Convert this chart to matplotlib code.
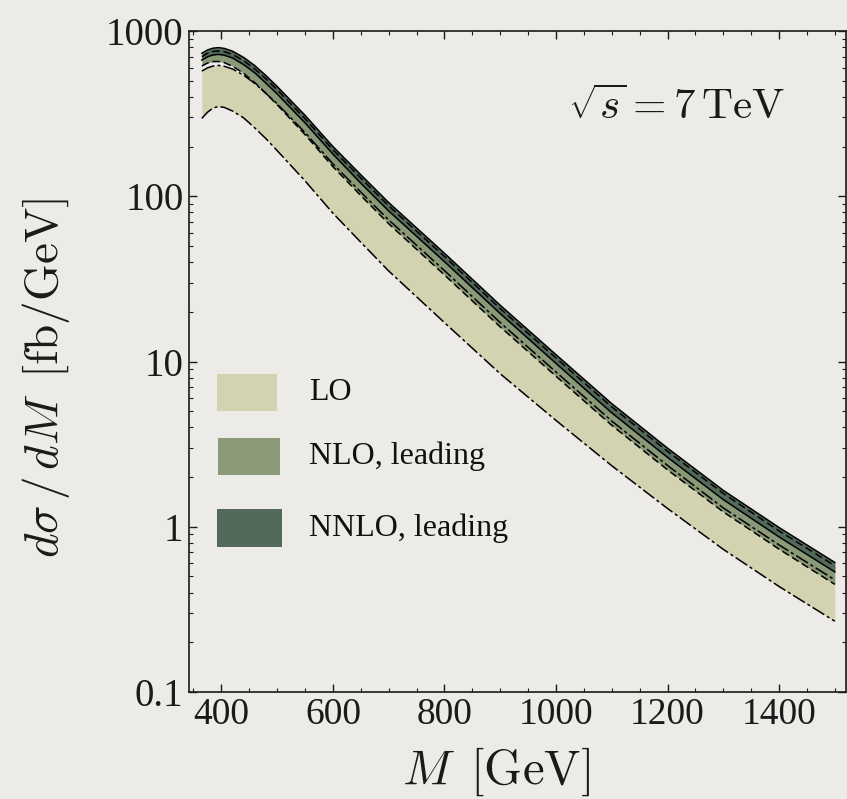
import numpy as np
import matplotlib
matplotlib.use("Agg")
import matplotlib.pyplot as plt
from matplotlib.patches import Rectangle

# invariant-mass grid [GeV]
mass = [365, 375, 385, 395, 405, 420, 440, 460, 480, 500, 550, 600, 650, 700,
        800, 900, 1000, 1100, 1200, 1300, 1400, 1500]

# scale-variation bands, d sigma / dM [fb/GeV]
lo_low = [296, 322, 342, 349, 345, 328, 298, 259, 223, 189, 124, 79.0, 52.7, 35.3,
          17.2, 8.43, 4.40, 2.34, 1.29, 0.730, 0.435, 0.268]
lo_high = [572, 598, 614, 619, 612, 589, 540, 481, 419, 363, 243, 157, 106, 71.9,
           35.5, 17.2, 8.64, 4.36, 2.35, 1.30, 0.776, 0.477]
nlo_low = [614, 640, 653, 654, 644, 612, 554, 487, 419, 358, 236, 151, 101, 68.2,
           33.4, 16.2, 8.14, 4.11, 2.21, 1.23, 0.732, 0.448]
nlo_high = [700, 732, 752, 757, 750, 721, 661, 589, 513, 441, 295, 191, 129, 87.5,
            43.2, 20.9, 10.5, 5.31, 2.86, 1.59, 0.944, 0.581]
nnlo_low = [667, 698, 716, 722, 714, 687, 626, 558, 483, 416, 278, 180, 120, 81.5,
            40.2, 19.5, 9.74, 4.89, 2.63, 1.46, 0.868, 0.533]
nnlo_high = [733, 767, 787, 793, 785, 755, 692, 617, 537, 462, 309, 200, 135, 91.6,
             45.2, 21.9, 11.0, 5.56, 2.99, 1.66, 0.989, 0.608]

labels = ["LO", "NLO, leading", "NNLO, leading"]
colors = ["#d3d3b2", "#8a9977", "#53695a"]
x_ticks = [400, 600, 800, 1000, 1200, 1400]
y_ticks = [0.1, 1, 10, 100, 1000]
y_ticklabels = ["0.1", "1", "10", "100", "1000"]

bg = "#ecebe7"
ink = "#1a1a1a"
plt.rcParams["mathtext.fontset"] = "cm"

W, H = 847, 799
fig = plt.figure(figsize=(W / 100, H / 100), dpi=100, facecolor=bg)
ax_l, ax_r, ax_t, ax_b = 189, 846, 31, 692
ax = fig.add_axes([ax_l / W, (H - ax_b) / H, (ax_r - ax_l) / W, (ax_b - ax_t) / H], facecolor=bg)
aw, ah = ax_r - ax_l, ax_b - ax_t

bands = [(lo_low, lo_high), (nlo_low, nlo_high), (nnlo_low, nnlo_high)]
styles = [(0, (9, 2, 2, 2)), (0, (5, 2.5)), "-"]
for (lo, hi), c in zip(bands, colors):
    ax.fill_between(mass, lo, hi, color=c, lw=0, zorder=2)
for (lo, hi), ls in zip(bands, styles):
    for curve in (lo, hi):
        ax.plot(mass, curve, color="black", lw=1.1, ls=ls, zorder=3)

ax.set_yscale("log")
ax.set_xlim(342, 1520)
ax.set_ylim(0.1, 1000)

ax.set_xticks(x_ticks)
ax.set_xticklabels([str(v) for v in x_ticks], fontfamily="Liberation Serif", fontsize=27)
ax.set_xticks(np.arange(350, 1520, 50), minor=True)
ax.set_yticks(y_ticks)
ax.set_yticklabels(y_ticklabels, fontfamily="Liberation Serif", fontsize=28)
ax.yaxis.set_minor_locator(matplotlib.ticker.LogLocator(base=10, subs=np.arange(2, 10)))
ax.yaxis.set_minor_formatter(matplotlib.ticker.NullFormatter())
ax.tick_params(which="both", direction="in", top=True, right=True, colors=ink)
ax.tick_params(which="major", length=6, width=1, pad=4)
ax.tick_params(which="minor", length=3, width=0.8)
for s in ax.spines.values():
    s.set_color(ink)
    s.set_linewidth(1.2)

ax.set_xlabel(r"$M\ \,\mathrm{[GeV]}$", fontsize=35, color=ink)
ax.xaxis.set_label_coords((496 - ax_l) / aw, -(745 - ax_b) / ah)
ax.set_ylabel(r"$d\sigma\,/\,dM\ \,\mathrm{[fb/GeV]}$", fontsize=34, color=ink)
ax.yaxis.set_label_coords((72 - ax_l) / aw, (ax_b - 378) / ah)

ax.text((568 - ax_l) / aw, (ax_b - 107) / ah, r"$\sqrt{s}=7\,\mathrm{TeV}$",
        transform=ax.transAxes, fontsize=31, color=ink, va="center", ha="left")

# legend swatches: (left, right, top, bottom) in pixels
swatches = [(217, 277, 374, 411), (218, 280, 438, 475), (217, 282, 509, 547)]
for (x0, x1, y0, y1), c, lab in zip(swatches, colors, labels):
    ax.add_patch(Rectangle(((x0 - ax_l) / aw, (ax_b - y1) / ah), (x1 - x0) / aw, (y1 - y0) / ah,
                           transform=ax.transAxes, facecolor=c, edgecolor="none", zorder=4))
    ax.text((309 - ax_l) / aw, (ax_b - (y0 + y1) / 2) / ah, lab, transform=ax.transAxes,
            fontfamily="Liberation Serif", fontsize=23, va="center", ha="left",
            color="#111111", zorder=4)

fig.savefig("out.png", dpi=100, facecolor=bg)
